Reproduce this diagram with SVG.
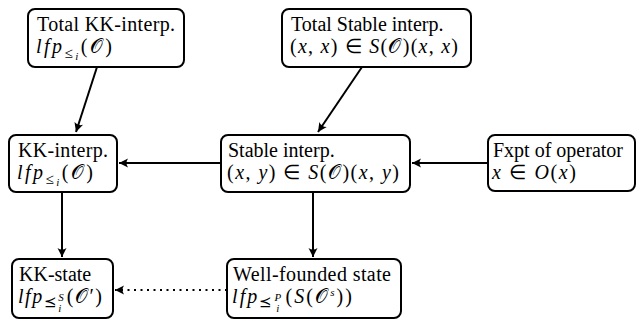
<svg xmlns="http://www.w3.org/2000/svg" width="637" height="320" viewBox="0 0 637 320">
<defs>
<style>
.box{fill:#fff;stroke:#000;stroke-width:2}
.t{font-family:"Liberation Serif","Times New Roman",serif;font-size:20px;fill:#000}
.it{font-style:italic}
.sub{font-size:15px}
.ss{font-size:11px}
.edge{fill:none;stroke:#000;stroke-width:2}
.dot{stroke-dasharray:2 4.5}
</style>
<marker id="ah" viewBox="-10 -6 12 12" refX="0" refY="0" markerWidth="12" markerHeight="12" markerUnits="userSpaceOnUse" orient="auto">
<path d="M0,0 L-9,-4.5 Q-6,0 -9,4.5 Z" fill="#000"/>
</marker>
</defs>
<g id="connectors">
<path class="edge" d="M97,67 L76,132" marker-end="url(#ah)"/>
<path class="edge" d="M362,67 L318,132" marker-end="url(#ah)"/>
<path class="edge" d="M221,163 L119,163" marker-end="url(#ah)"/>
<path class="edge" d="M488,163 L412,163" marker-end="url(#ah)"/>
<path class="edge" d="M62,192 L62,257" marker-end="url(#ah)"/>
<path class="edge" d="M313,192 L313,257" marker-end="url(#ah)"/>
<path class="edge dot" d="M227,290 L115,290" marker-end="url(#ah)"/>
</g>
<g class="t">
<g id="total-kk">
<rect class="box" x="28" y="9" width="156" height="58" rx="7"/>
<text x="37" y="31" textLength="138" lengthAdjust="spacing">Total KK-interp.</text>
<text x="36" y="53" textLength="76" lengthAdjust="spacing"><tspan class="it">lfp</tspan><tspan class="sub" dy="5">≤</tspan><tspan class="it ss" dy="2">i</tspan><tspan dy="-7">(𝒪)</tspan></text>
</g>
<g id="total-stable">
<rect class="box" x="282" y="9" width="189" height="58" rx="7"/>
<text x="291" y="31">Total Stable interp.</text>
<text x="290" y="53" textLength="168" lengthAdjust="spacing">(<tspan class="it">x</tspan>, <tspan class="it">x</tspan>) ∈ <tspan class="it">S</tspan>(𝒪)(<tspan class="it">x</tspan>, <tspan class="it">x</tspan>)</text>
</g>
<g id="kk-interp">
<rect class="box" x="9" y="135" width="108" height="57" rx="7"/>
<text x="18" y="157" textLength="90" lengthAdjust="spacing">KK-interp.</text>
<text x="17" y="179" textLength="76" lengthAdjust="spacing"><tspan class="it">lfp</tspan><tspan class="sub" dy="5">≤</tspan><tspan class="it ss" dy="2">i</tspan><tspan dy="-7">(𝒪)</tspan></text>
</g>
<g id="stable-interp">
<rect class="box" x="221" y="135" width="189" height="57" rx="7"/>
<text x="228" y="157">Stable interp.</text>
<text x="227" y="179" textLength="172" lengthAdjust="spacing">(<tspan class="it">x</tspan>, <tspan class="it">y</tspan>) ∈ <tspan class="it">S</tspan>(𝒪)(<tspan class="it">x</tspan>, <tspan class="it">y</tspan>)</text>
</g>
<g id="fxpt">
<rect class="box" x="488" y="135" width="147" height="56" rx="7"/>
<text x="493" y="157">Fxpt of operator</text>
<text x="492" y="179" textLength="84" lengthAdjust="spacing"><tspan class="it">x</tspan> ∈ <tspan class="it">O</tspan>(<tspan class="it">x</tspan>)</text>
</g>
<g id="kk-state">
<rect class="box" x="12" y="259" width="101" height="59" rx="7"/>
<text x="19" y="281">KK-state</text>
<text x="18" y="303" textLength="84" lengthAdjust="spacing"><tspan class="it">lfp</tspan><tspan class="sub" dy="4">⪯</tspan><tspan class="it ss" dy="-6">S</tspan><tspan class="it ss" dx="-7" dy="11">i</tspan><tspan dx="4" dy="-9">(𝒪′)</tspan></text>
</g>
<g id="well-founded">
<rect class="box" x="227" y="259" width="174" height="59" rx="7"/>
<text x="233" y="281" textLength="158" lengthAdjust="spacing">Well-founded state</text>
<text x="232" y="303" textLength="120" lengthAdjust="spacing"><tspan class="it">lfp</tspan><tspan class="sub" dy="4">⪯</tspan><tspan class="it ss" dy="-6">P</tspan><tspan class="it ss" dx="-7" dy="11">i</tspan><tspan dx="4" dy="-9">(</tspan><tspan class="it">S</tspan>(𝒪<tspan class="it ss" dy="-7">s</tspan><tspan dy="7">))</tspan></text>
</g>
</g>
</svg>
